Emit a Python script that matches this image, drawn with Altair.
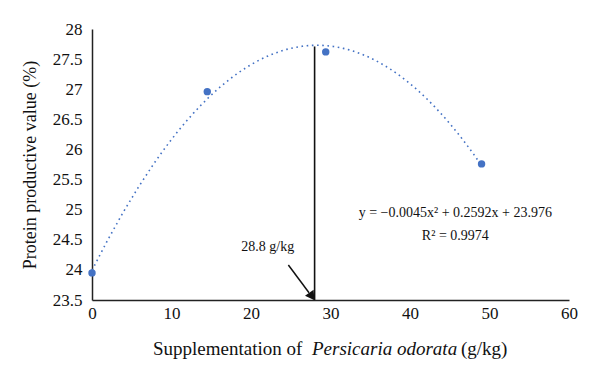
import altair as alt
import pandas as pd

# Data
supp = [0, 14.5, 29.4, 49.0]
ppv = [23.95, 26.96, 27.62, 25.76]

x_ticks = [0, 10, 20, 30, 40, 50, 60]
y_ticks = [23.5, 24, 24.5, 25, 25.5, 26, 26.5, 27, 27.5, 28]

opt_line_x = [28.0]
opt_line_y0 = [23.5]
opt_line_y1 = [27.71]
opt_label = ["28.8 g/kg"]
opt_label_x = [22.1]
opt_label_y = [24.38]

arrow_x0 = [24.7]
arrow_y0 = [24.08]
arrow_x1 = [27.3]
arrow_y1 = [23.62]
arrow_head_x = [27.55]
arrow_head_y = [23.58]

eq_lines = ["y = \u22120.0045x\u00b2 + 0.2592x + 23.976", "R\u00b2 = 0.9974"]
eq_x = [45.7, 45.7]
eq_y = [24.95, 24.56]

title_parts = ["Supplementation of", "Persicaria odorata", "(g/kg)"]
title_style = ["normal", "italic", "normal"]

FONT = "Liberation Serif"
BLUE = "#4472C4"
W, H = 477, 271

df = pd.DataFrame({"x": supp, "y": ppv})

xs = alt.Scale(domain=[0, 60], nice=False)
ys = alt.Scale(domain=[23.5, 28], nice=False, zero=False)

common = dict(grid=False, ticks=False, domainColor="#222", domainWidth=1.5,
              labelFont=FONT, labelFontSize=17, labelColor="#111")
xax = alt.Axis(values=x_ticks, labelFlush=False, labelOverlap=False, labelPadding=5,
               title=None, **common)
yax = alt.Axis(values=y_ticks, format="~g", labelOverlap=False, labelPadding=10,
               title="Protein productive value (%)", titleFont=FONT, titleFontSize=18,
               titleFontWeight="normal", titleColor="#111", titlePadding=13, **common)


def X(f):
    return alt.X(f, scale=xs, axis=xax)


def Y(f):
    return alt.Y(f, scale=ys, axis=yax)


base = alt.Chart(df)

trend = base.transform_regression("x", "y", method="poly", order=2).mark_line(
    color=BLUE, strokeWidth=1.6, strokeDash=[1.6, 3.6]
).encode(x=X("x:Q"), y=Y("y:Q"))

points = base.mark_circle(size=55, color=BLUE, opacity=1).encode(x=X("x:Q"), y=Y("y:Q"))

vline_df = pd.DataFrame({"x": opt_line_x, "y0": opt_line_y0, "y1": opt_line_y1})
vline = alt.Chart(vline_df).mark_rule(color="#111", strokeWidth=1.6).encode(
    x=X("x:Q"), y=Y("y0:Q"), y2="y1:Q"
)

lab_df = pd.DataFrame({"x": opt_label_x, "y": opt_label_y, "t": opt_label})
lab = alt.Chart(lab_df).mark_text(font=FONT, fontSize=14, color="#111").encode(
    x=X("x:Q"), y=Y("y:Q"), text="t:N"
)

arr_df = pd.DataFrame({"x0": arrow_x0, "y0": arrow_y0, "x1": arrow_x1, "y1": arrow_y1})
arr = alt.Chart(arr_df).mark_rule(color="#111", strokeWidth=1.5).encode(
    x=X("x0:Q"), y=Y("y0:Q"), x2="x1:Q", y2="y1:Q"
)
head_df = pd.DataFrame({"x": arrow_head_x, "y": arrow_head_y})
head = alt.Chart(head_df).mark_point(shape="triangle", filled=True, color="#111", opacity=1,
                                     size=110, angle=145).encode(x=X("x:Q"), y=Y("y:Q"))

eq_df = pd.DataFrame({"x": eq_x, "y": eq_y, "t": eq_lines})
eq = alt.Chart(eq_df).mark_text(font=FONT, fontSize=14, color="#111").encode(
    x=X("x:Q"), y=Y("y:Q"), text="t:N"
)

# x-axis title with mixed styles
tparts = []
offsets = [61, 220, 369]
for part, style, off in zip(title_parts, title_style, offsets):
    tparts.append(
        alt.Chart(pd.DataFrame({"t": [part]})).mark_text(
            font=FONT, fontSize=19, fontStyle=style, color="#111", align="left", baseline="alphabetic"
        ).encode(x=alt.value(off), y=alt.value(H + 55), text="t:N")
    )

chart = alt.layer(trend, vline, arr, head, points, lab, eq, *tparts).properties(
    width=W, height=H,
    background="white",
    autosize=alt.AutoSizeParams(type="none"),
    padding={"left": 84, "top": 21, "right": 20, "bottom": 60},
).configure_view(stroke=None)

chart.save("out.html", embed_options={"renderer": "svg", "actions": False})
